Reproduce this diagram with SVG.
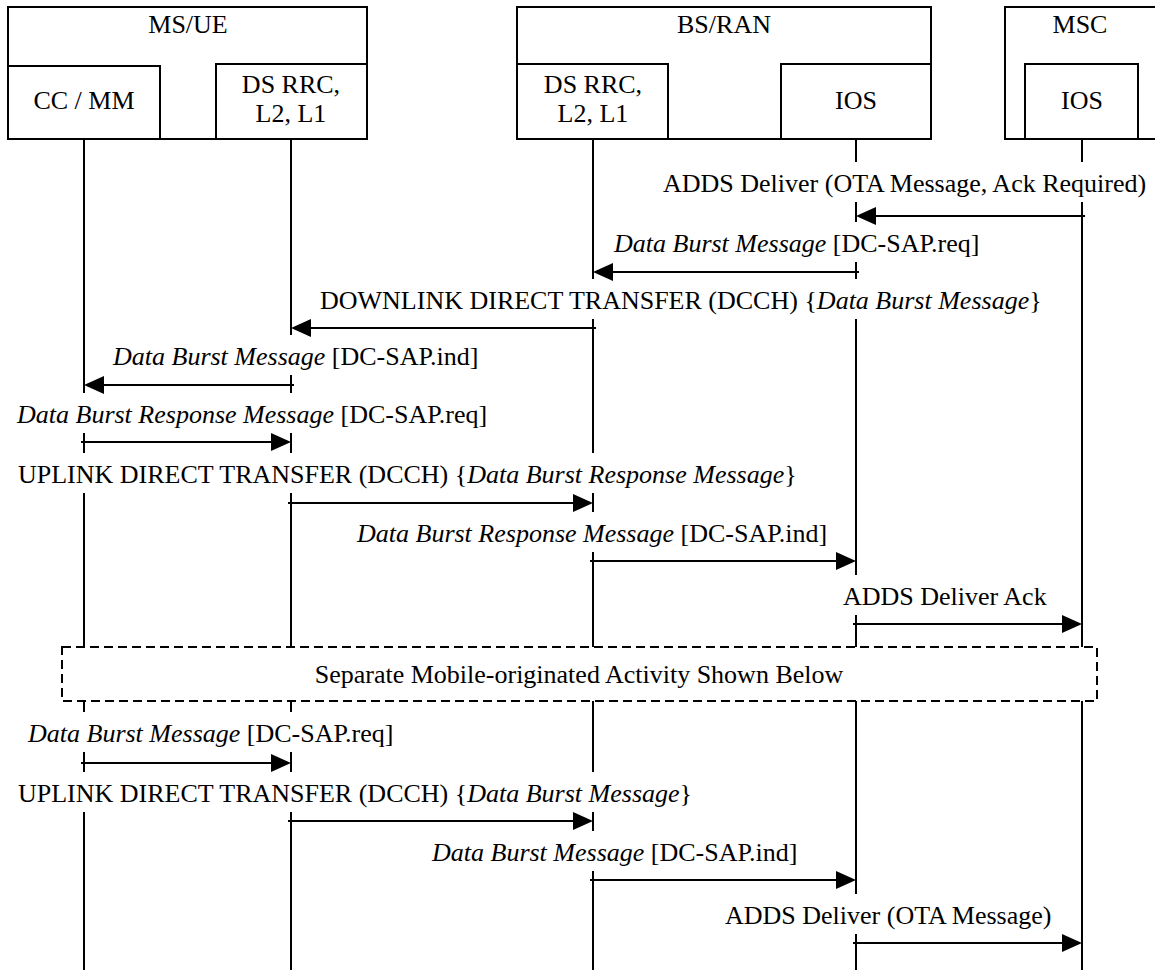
<svg xmlns="http://www.w3.org/2000/svg" width="1155" height="970" viewBox="0 0 1155 970">
  <defs>
    <style>
      .box { fill: #fff; stroke: #000; stroke-width: 2; }
      .life { stroke: #000; stroke-width: 2; fill: none; }
      .msg { stroke: #000; stroke-width: 2; fill: none; }
      .head { fill: #000; stroke: none; }
      .bg { fill: #fff; stroke: none; }
      .dash { fill: none; stroke: #000; stroke-width: 2; stroke-dasharray: 9 5; }
      text { font-family: "Liberation Serif", "Times New Roman", "DejaVu Serif", serif; font-size: 26px; fill: #000; }
      .c { text-anchor: middle; }
      .i { font-style: italic; }
    </style>
  </defs>
  <rect width="1155" height="970" fill="#fff"/>

  <!-- Entity headers -->
  <g id="ms-ue">
    <rect class="box" x="8" y="7" width="359" height="132"/>
    <text class="c" x="188" y="33">MS/UE</text>
  </g>
  <g id="ms-ccmm">
    <rect class="box" x="8" y="66" width="152" height="73"/>
    <text class="c" x="84" y="109">CC / MM</text>
  </g>
  <g id="ms-rrc">
    <rect class="box" x="216" y="64" width="151" height="75"/>
    <text class="c" x="291" y="93">DS RRC,</text>
    <text class="c" x="291" y="122">L2, L1</text>
  </g>
  <g id="bs-ran">
    <rect class="box" x="517" y="7" width="414" height="132"/>
    <text class="c" x="724" y="33">BS/RAN</text>
  </g>
  <g id="bs-rrc">
    <rect class="box" x="517" y="64" width="151" height="75"/>
    <text class="c" x="593" y="93">DS RRC,</text>
    <text class="c" x="593" y="122">L2, L1</text>
  </g>
  <g id="bs-ios">
    <rect class="box" x="781" y="64" width="150" height="75"/>
    <text class="c" x="856" y="109">IOS</text>
  </g>
  <g id="msc">
    <rect class="box" x="1005" y="7" width="160" height="132"/>
    <text class="c" x="1080" y="33">MSC</text>
  </g>
  <g id="msc-ios">
    <rect class="box" x="1025" y="64" width="113" height="75"/>
    <text class="c" x="1082" y="109">IOS</text>
  </g>

  <!-- Lifelines, broken around the separator box -->
  <g id="lifelines">
    <path class="life" d="M84 139V647M84 701V970M291 139V647M291 701V970M593 139V647M593 701V970M856 139V647M856 701V970M1082 139V647M1082 701V970"/>
  </g>

  <!-- Label backgrounds: lifelines pass behind the message texts -->
  <g id="label-bg">
    <rect class="bg" x="660" y="162" width="495" height="40"/>
    <rect class="bg" x="611" y="222" width="371" height="40"/>
    <rect class="bg" x="317" y="279" width="729" height="40"/>
    <rect class="bg" x="110" y="335" width="372" height="40"/>
    <rect class="bg" x="14" y="393" width="477" height="40"/>
    <rect class="bg" x="15" y="453" width="784" height="40"/>
    <rect class="bg" x="354" y="512" width="478" height="40"/>
    <rect class="bg" x="840" y="575" width="210" height="40"/>
    <rect class="bg" x="25" y="712" width="372" height="40"/>
    <rect class="bg" x="15" y="772" width="679" height="40"/>
    <rect class="bg" x="429" y="831" width="372" height="40"/>
    <rect class="bg" x="722" y="894" width="333" height="40"/>
  </g>

  <!-- Separator -->
  <g id="separator">
    <rect class="dash" x="62" y="647" width="1035" height="54"/>
    <text class="c" x="579" y="683">Separate Mobile-originated Activity Shown Below</text>
  </g>

  <!-- Messages -->
  <g id="connectors">
    <!-- 1 MSC IOS -> BS IOS -->
    <path class="msg" d="M1085 216H874"/>
    <path class="head" d="M856 216l20 -9v18z"/>
    <!-- 2 BS IOS -> BS RRC -->
    <path class="msg" d="M859 272H611"/>
    <path class="head" d="M593 272l20 -9v18z"/>
    <!-- 3 BS RRC -> MS RRC -->
    <path class="msg" d="M596 328H309"/>
    <path class="head" d="M291 328l20 -9v18z"/>
    <!-- 4 MS RRC -> CC/MM -->
    <path class="msg" d="M294 385H102"/>
    <path class="head" d="M84 385l20 -9v18z"/>
    <!-- 5 CC/MM -> MS RRC -->
    <path class="msg" d="M81 442H273"/>
    <path class="head" d="M291 442l-20 -9v18z"/>
    <!-- 6 MS RRC -> BS RRC -->
    <path class="msg" d="M288 503H575"/>
    <path class="head" d="M593 503l-20 -9v18z"/>
    <!-- 7 BS RRC -> BS IOS -->
    <path class="msg" d="M590 561H838"/>
    <path class="head" d="M856 561l-20 -9v18z"/>
    <!-- 8 BS IOS -> MSC IOS -->
    <path class="msg" d="M853 624H1064"/>
    <path class="head" d="M1082 624l-20 -9v18z"/>
    <!-- 9 CC/MM -> MS RRC -->
    <path class="msg" d="M81 763H273"/>
    <path class="head" d="M291 763l-20 -9v18z"/>
    <!-- 10 MS RRC -> BS RRC -->
    <path class="msg" d="M288 821H575"/>
    <path class="head" d="M593 821l-20 -9v18z"/>
    <!-- 11 BS RRC -> BS IOS -->
    <path class="msg" d="M590 880H838"/>
    <path class="head" d="M856 880l-20 -9v18z"/>
    <!-- 12 BS IOS -> MSC IOS -->
    <path class="msg" d="M853 943H1064"/>
    <path class="head" d="M1082 943l-20 -9v18z"/>
  </g>

  <!-- Message labels -->
  <g id="labels">
    <text x="663" y="192">ADDS Deliver (OTA Message, Ack Required)</text>
    <text x="614" y="252"><tspan class="i">Data Burst Message</tspan> [DC-SAP.req]</text>
    <text x="320" y="309">DOWNLINK DIRECT TRANSFER (DCCH) {<tspan class="i">Data Burst Message</tspan>}</text>
    <text x="113" y="365"><tspan class="i">Data Burst Message</tspan> [DC-SAP.ind]</text>
    <text x="17" y="423"><tspan class="i">Data Burst Response Message</tspan> [DC-SAP.req]</text>
    <text x="18" y="483">UPLINK DIRECT TRANSFER (DCCH) {<tspan class="i">Data Burst Response Message</tspan>}</text>
    <text x="357" y="542"><tspan class="i">Data Burst Response Message</tspan> [DC-SAP.ind]</text>
    <text x="843" y="605">ADDS Deliver Ack</text>
    <text x="28" y="742"><tspan class="i">Data Burst Message</tspan> [DC-SAP.req]</text>
    <text x="18" y="802">UPLINK DIRECT TRANSFER (DCCH) {<tspan class="i">Data Burst Message</tspan>}</text>
    <text x="432" y="861"><tspan class="i">Data Burst Message</tspan> [DC-SAP.ind]</text>
    <text x="725" y="924">ADDS Deliver (OTA Message)</text>
  </g>
</svg>
